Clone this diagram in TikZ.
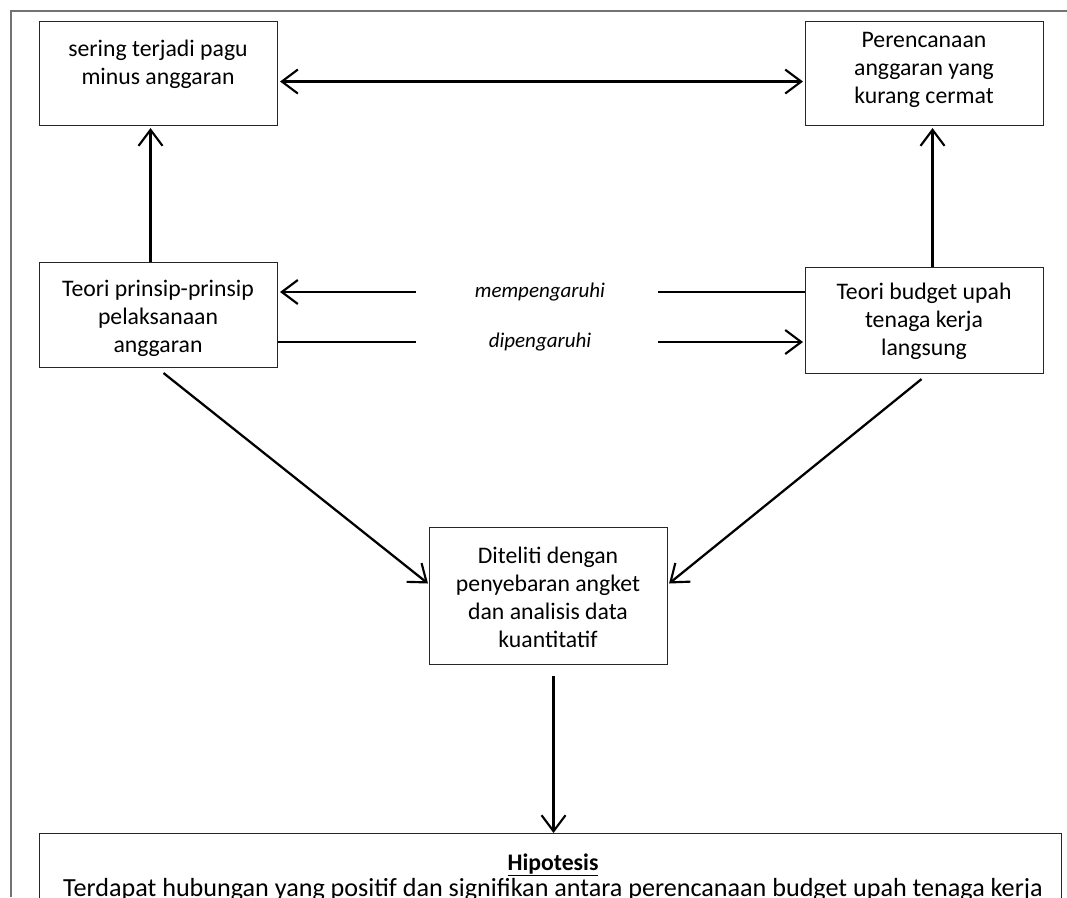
\documentclass[tikz,border=0pt]{standalone}
\usepackage{fontspec}
\setmainfont{Carlito}
\usetikzlibrary{arrows.meta}
\begin{document}
\begin{tikzpicture}[x=0.75pt,y=-0.75pt,
  boxs/.style={draw=black!85, line width=0.8pt, inner sep=0pt, anchor=north west, minimum width=178.5pt},
  txt/.style={align=center, font=\fontsize{17.8}{21}\selectfont, inner sep=0pt},
  lbl/.style={font=\fontsize{15.75}{19}\selectfont\itshape, inner sep=0pt},
  tip/.tip={Straight Barb[length=12pt,width=18pt,line width=1.6pt]},
  conn/.style={line width=1.7pt, -tip},
  plain/.style={line width=1.7pt},
  frame/.style={draw=black!55, line width=1pt}]
\clip (0,0) rectangle (1067,897);
\fill[white] (0,0) rectangle (1067,897);
\draw[frame] (11,897) -- (11,11) -- (1067,11);
% boxes
\node[boxs, minimum height=78pt] (A) at (39,21) {};
\node[boxs, minimum height=78pt] (B) at (805,21) {};
\node[boxs, minimum height=78.75pt] (C) at (39,262) {};
\node[boxs, minimum height=79.5pt] (D) at (805,267) {};
\node[boxs, minimum height=102.75pt] (E) at (429,527) {};
\node[boxs, minimum width=766.5pt, minimum height=90pt] (H) at (39,833) {};
% texts
\node[txt] (At) at (158,64) {sering terjadi pagu\\minus anggaran};
\node[txt] (Bt) at (924,70) {Perencanaan\\anggaran yang\\kurang cermat};
\node[txt] (Ct) at (158,318) {Teori prinsip-prinsip\\pelaksanaan\\anggaran};
\node[txt] (Dt) at (924,321) {Teori budget upah\\tenaga kerja\\langsung};
\node[txt] (Et) at (548,597) {Diteliti dengan\\penyebaran angket\\dan analisis data\\kuantitatif};
\node[txt, font=\fontsize{17.8}{21}\selectfont\bfseries] (Ht1) at (553,865) {\underline{Hipotesis}};
\node[txt, font=\fontsize{19.6}{23}\selectfont] (Ht2) at (553,890) {Terdapat hubungan yang positif dan signifikan antara perencanaan budget upah tenaga kerja};
\node[lbl] (mp) at (540,292) {mempengaruhi};
\node[lbl] (dp) at (540,342) {dipengaruhi};
% connectors
\draw[line width=1.7pt, tip-tip, shorten <=1.5pt, shorten >=1.5pt] ([yshift=-6pt]A.east) -- ([yshift=-6pt]B.west);
\draw[conn, shorten >=1.5pt] ([xshift=-6pt]C.north) -- ([xshift=-6pt]A.south);
\draw[conn, shorten >=1.5pt] ([xshift=6pt]D.north) -- ([xshift=6pt]B.south);
\coordinate (m1) at (416,292);
\coordinate (m2) at (658,292);
\coordinate (d1) at (416,342);
\coordinate (d2) at (658,342);
\draw[conn, shorten >=1.5pt] (m1) -- (C.east |- m1);
\draw[plain] (m2) -- (D.west |- m2);
\draw[plain] (C.east |- d1) -- (d1);
\draw[conn, shorten >=1.5pt] (d2) -- (D.west |- d2);
\draw[conn] ([xshift=3.75pt,yshift=-3.75pt]C.south) -- ([xshift=-0.75pt,yshift=9.4pt]E.west);
\draw[conn] ([xshift=-2.25pt,yshift=-3.75pt]D.south) -- ([xshift=0.75pt,yshift=9.4pt]E.east);
\draw[conn] ([xshift=3.75pt,yshift=-8.25pt]E.south) -- ([xshift=2.25pt]H.north);
\end{tikzpicture}
\end{document}
